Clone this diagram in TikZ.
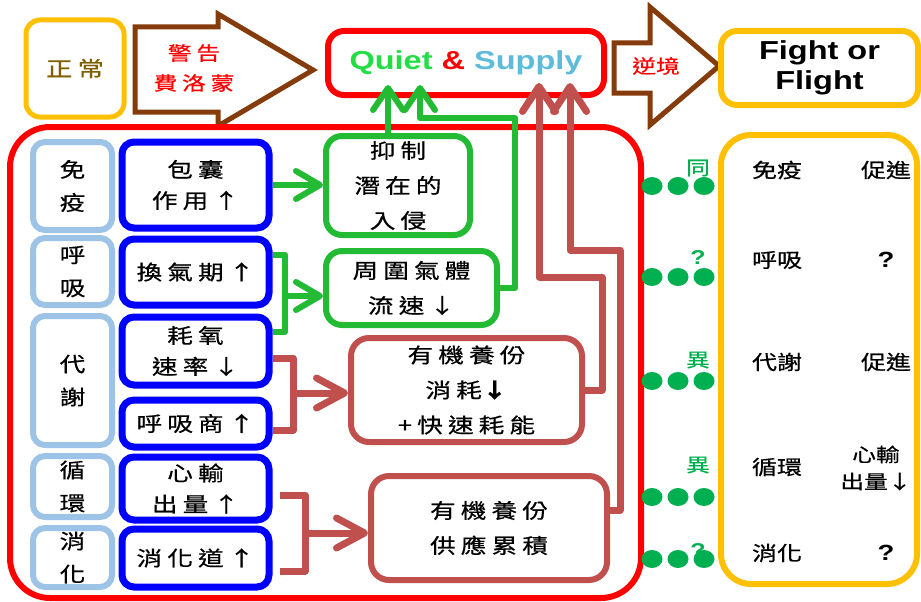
\documentclass[tikz,border=0pt]{standalone}
\usepackage{fontspec}
\usetikzlibrary{arrows.meta,shapes.geometric}
\newfontfamily\cjkf[FakeStretch=1.25,FakeBold=0.6]{Noto Sans CJK TC}
\newfontfamily\cjksp[FakeStretch=1.25,FakeBold=0.6,LetterSpace=25]{Noto Sans CJK TC}
\newfontfamily\latf[FakeStretch=1.25]{Liberation Sans}
\definecolor{cRed}{HTML}{FF0000}
\definecolor{cOrange}{HTML}{FFC000}
\definecolor{cBrown}{HTML}{843C0C}
\definecolor{cLBlue}{HTML}{9DC3E6}
\definecolor{cBlue}{HTML}{0000FF}
\definecolor{cGreen}{HTML}{22BB33}
\definecolor{cQuiet}{HTML}{22DD44}
\definecolor{cSupply}{HTML}{5EBCDB}
\definecolor{cRB}{HTML}{C0504D}
\definecolor{cDot}{HTML}{00B050}
\definecolor{cGold}{HTML}{7F6000}
\begin{document}
\begin{tikzpicture}[x=1pt,y=-1pt,
  bx/.style={draw, rounded corners=12, line width=6, inner sep=0, align=center, fill=white},
  lbbox/.style={bx, draw=cLBlue, minimum width=79, font=\cjksp\fontsize{20.5}{33}\selectfont},
  bbox/.style={bx, draw=cBlue, line width=7, minimum width=147, font=\cjksp\fontsize{20.5}{31}\selectfont},
  gbox/.style={bx, draw=cGreen, rounded corners=16, font=\cjksp\fontsize{20.5}{35}\selectfont},
  rbox/.style={bx, draw=cRB, rounded corners=18, font=\cjksp\fontsize{20.5}{35}\selectfont},
  gline/.style={draw=cGreen, line width=6, line join=round},
  rline/.style={draw=cRB, line width=7, line join=round},
  garrow/.style={gline, -{Straight Barb[length=22,width=30,round]}},
  garrowh/.style={gline, -{Straight Barb[length=24,width=28,round]}},
  rarrow/.style={rline, -{Straight Barb[length=25,width=33,round]}},
  rarrowh/.style={rline, -{Straight Barb[length=28,width=30,round]}},
  blockarrow/.style={draw=cBrown, line width=5, fill=white, line join=miter},
  rtxt/.style={font=\cjkf\fontsize{20}{27}\selectfont, align=center, inner sep=0},
  qtxt/.style={font=\latf\bfseries\fontsize{22}{26}\selectfont, inner sep=0},
  gtxt/.style={font=\cjkf\fontsize{19}{22}\selectfont, text=cDot, inner sep=0},
  dot/.style={ellipse, fill=cDot, minimum width=21, minimum height=18, inner sep=0}
]
\useasboundingbox (0,0) rectangle (921,602);
\fill[white] (0,0) rectangle (921,602);

% top row
\node[bx, draw=cOrange, line width=5, rounded corners=14, minimum width=98, minimum height=97,
      font=\cjksp\fontsize{21}{24}\selectfont, text=cGold] (normal) at (75,68.5) {正常};
\draw[blockarrow] (135,27) -- (218,27) -- (218,14) -- (313,70) -- (218,126) -- (218,112) -- (135,112) -- cycle;
\node[font=\cjksp\fontsize{19}{30}\selectfont, text=cRed, align=center, inner sep=0] (warn) at (194,68) {警告\\費洛蒙};
\node[bx, draw=cRed, rounded corners=16, minimum width=276, minimum height=64,
      font=\latf\bfseries\fontsize{26}{30}\selectfont] (qs) at (466,63)
      {\textcolor{cQuiet}{Quiet} \textcolor{cRed}{\&} \textcolor{cSupply}{Supply}};
\draw[blockarrow] (614,43) -- (650,43) -- (650,7) -- (719,66) -- (650,125) -- (650,93) -- (614,93) -- cycle;
\node[font=\cjkf\fontsize{19}{22}\selectfont, text=cRed, inner sep=0] (adv) at (656,66) {逆境};
\node[bx, draw=cOrange, rounded corners=16, minimum width=197, minimum height=74,
      font=\latf\bfseries\fontsize{26}{30}\selectfont] (ff) at (819.5,68) {Fight or\\Flight};

% big frames
\node[draw=cRed, line width=6, rounded corners=40, minimum width=631, minimum height=471, inner sep=0] (frame) at (325.5,362.5) {};
\node[draw=cOrange, line width=6, rounded corners=30, minimum width=196, minimum height=449, inner sep=0] (rp) at (819,359.5) {};

% light blue column
\node[lbbox, minimum height=88] (lb1) at (72.5,186) {免\\疫};
\node[lbbox, minimum height=67] (lb2) at (72.5,271.5) {呼\\吸};
\node[lbbox, minimum height=129] (lb3) at (72.5,380.5) {代\\謝};
\node[lbbox, minimum height=61] (lb4) at (72.5,486.5) {循\\環};
\node[lbbox, minimum height=59] (lb5) at (72.5,557.5) {消\\化};

% blue column
\node[bbox, minimum height=86] (b1) at (195.5,185) {包囊\\作用↑};
\node[bbox, minimum height=66] (b2) at (195.5,272) {換氣期↑};
\node[bbox, minimum height=68] (b3) at (195.5,351) {耗氧\\速率↓};
\node[bbox, minimum height=47] (b4) at (195.5,423.5) {呼吸商↑};
\node[bbox, minimum height=63] (b5) at (195.5,488.5) {心輸\\出量↑};
\node[bbox, minimum height=58] (b6) at (195.5,558) {消化道↑};

% green boxes
\node[gbox, minimum width=144, minimum height=99] (g1) at (398,185.5) {抑制\\潛在的\\入侵};
\node[gbox, minimum width=171, minimum height=74] (g2) at (411.5,288) {周圍氣體\\流速↓};

% red-brown boxes
\node[rbox, minimum width=231, minimum height=104] (r1) at (466.5,390) {有機養份\\消耗{\bfseries↓}\\+快速耗能};
\node[rbox, minimum width=236, minimum height=104] (r2) at (489,528) {有機養份\\供應累積};

% coordinates
\coordinate (gbT) at (273,255);
\coordinate (gbX) at (285,255);
\coordinate (gbY) at (285,332);
\coordinate (gbB) at (273,332);
\coordinate (gbM) at (285,296);
\coordinate (qa1) at (388,85);
\coordinate (qa2) at (420,85);
\coordinate (gc1) at (515,288);
\coordinate (gc2) at (515,118);
\coordinate (gc3) at (420,118);
\coordinate (rb1T) at (273,358);
\coordinate (rb1X) at (293,358);
\coordinate (rb1Y) at (293,430);
\coordinate (rb1B) at (273,430);
\coordinate (rb1M) at (293,393);
\coordinate (rb2T) at (280,495);
\coordinate (rb2X) at (305,495);
\coordinate (rb2Y) at (305,571);
\coordinate (rb2B) at (280,571);
\coordinate (rb2M) at (305,533);
\coordinate (qa3) at (539,83);
\coordinate (qa4) at (570,83);
\coordinate (ra1) at (602,390);
\coordinate (ra2) at (602,277);
\coordinate (ra3) at (539,277);
\coordinate (rc0) at (607,510);
\coordinate (rc1) at (620,510);
\coordinate (rc2) at (620,250);
\coordinate (rc3) at (570,250);

% green connectors
\draw[garrowh] (b1.east) -- (b1.east -| g1.west);
\draw[gline] (gbT) -- (gbX) -- (gbY) -- (gbB);
\draw[garrowh] (gbM) -- (gbM -| g2.west);
\draw[garrow] (qa1 |- g1.north) -- (qa1);
\draw[garrow] (g2.east) -- (gc1) -- (gc2) -- (gc3) -- (qa2);

% red-brown connectors
\draw[rline] (rb1T) -- (rb1X) -- (rb1Y) -- (rb1B);
\draw[rarrowh] (rb1M) -- (rb1M -| r1.west);
\draw[rline] (rb2T) -- (rb2X) -- (rb2Y) -- (rb2B);
\draw[rarrowh] (rb2M) -- (rb2M -| r2.west);
\draw[rarrow] (r1.east) -- (ra1) -- (ra2) -- (ra3) -- (qa3);
\draw[rarrow] (rc0) -- (rc1) -- (rc2) -- (rc3) -- (qa4);

% right panel texts
\node[rtxt] (p1a) at (777,170) {免疫};
\node[rtxt] (p1b) at (886,170) {促進};
\node[rtxt] (p2a) at (777,260) {呼吸};
\node[qtxt] (p2b) at (886,260) {?};
\node[rtxt] (p3a) at (777,362) {代謝};
\node[rtxt] (p3b) at (886,362) {促進};
\node[rtxt] (p4a) at (777,467) {循環};
\node[rtxt, font=\cjkf\fontsize{19}{27}\selectfont] (p4b) at (876,468) {心輸\\出量↓};
\node[rtxt] (p5a) at (777,553) {消化};
\node[qtxt] (p5b) at (886,553) {?};

% green labels and dots
\node[gtxt] (l1) at (698,168) {同};
\node[gtxt, font=\latf\bfseries\fontsize{20}{22}\selectfont] (l2) at (698,258) {?};
\node[gtxt] (l3) at (698,360) {異};
\node[gtxt] (l4) at (698,465) {異};
\node[gtxt, font=\latf\bfseries\fontsize{20}{22}\selectfont] (l5) at (698,551) {?};
\foreach \r/\yy in {1/186,2/277,3/381,4/497,5/559}{
  \foreach \c/\xx in {1/652,2/678,3/704}{
    \node[dot] (d\r\c) at (\xx,\yy) {};
  }
}
\end{tikzpicture}
\end{document}
